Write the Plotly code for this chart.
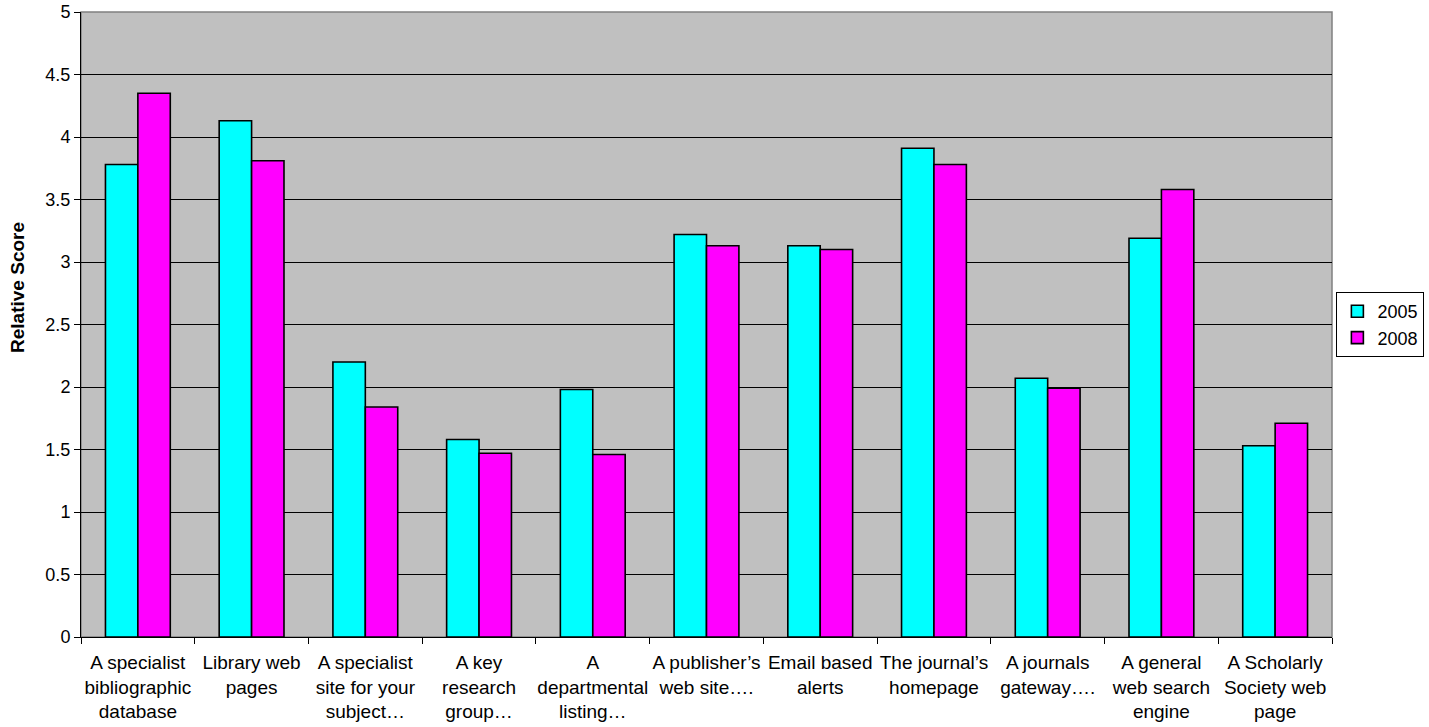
import plotly.graph_objects as go

# Resource categories (full names) and their wrapped tick labels
categories = [
    "A specialist bibliographic database",
    "Library web pages",
    "A specialist site for your subject…",
    "A key research group…",
    "A departmental listing…",
    "A publisher’s web site….",
    "Email based alerts",
    "The journal’s homepage",
    "A journals gateway….",
    "A general web search engine",
    "A Scholarly Society web page",
]
tick_labels = [
    "A specialist<br>bibliographic<br>database",
    "Library web<br>pages",
    "A specialist<br>site for your<br>subject…",
    "A key<br>research<br>group…",
    "A<br>departmental<br>listing…",
    "A publisher’s<br>web site….",
    "Email based<br>alerts",
    "The journal’s<br>homepage",
    "A journals<br>gateway….",
    "A general<br>web search<br>engine",
    "A Scholarly<br>Society web<br>page",
]

# Relative scores per survey year
scores_2005 = [3.78, 4.13, 2.20, 1.58, 1.98, 3.22, 3.13, 3.91, 2.07, 3.19, 1.53]
scores_2008 = [4.35, 3.81, 1.84, 1.47, 1.46, 3.13, 3.10, 3.78, 1.99, 3.58, 1.71]

y_ticks = [0, 0.5, 1, 1.5, 2, 2.5, 3, 3.5, 4, 4.5, 5]

FONT = "Liberation Sans, Arial, sans-serif"

fig = go.Figure()
fig.add_trace(go.Bar(
    name="2005", x=categories, y=scores_2005,
    marker=dict(color="#00FFFF", line=dict(color="#000000", width=1.6)),
))
fig.add_trace(go.Bar(
    name="2008", x=categories, y=scores_2008,
    marker=dict(color="#FF00FF", line=dict(color="#000000", width=1.6)),
))

fig.update_layout(
    width=1429, height=727,
    margin=dict(l=81, r=97, t=12, b=90, autoexpand=False),
    paper_bgcolor="#FFFFFF",
    plot_bgcolor="#C0C0C0",
    barmode="group",
    bargap=0.43,
    bargroupgap=0,
    font=dict(family=FONT, size=19, color="#000000"),
    legend=dict(
        x=1.0035, xanchor="left", y=0.5, yanchor="middle",
        bgcolor="#FFFFFF", bordercolor="#000000", borderwidth=1,
        font=dict(family=FONT, size=18, color="#000000"),
        itemwidth=30, tracegroupgap=0,
    ),
    showlegend=True,
)

fig.update_xaxes(
    type="category",
    tickmode="array", tickvals=categories, ticktext=tick_labels,
    tickson="boundaries", ticks="outside", ticklen=6, tickcolor="#000000",
    tickangle=0, automargin=False, ticklabelstandoff=8,
    showline=True, linecolor="#000000", linewidth=1,
    showgrid=False, zeroline=False,
    tickfont=dict(family=FONT, size=19, color="#000000"),
)
fig.update_yaxes(
    range=[0, 5], tickmode="array", tickvals=y_ticks,
    ticktext=[f"{v:g}" for v in y_ticks],
    ticks="outside", ticklen=6, tickcolor="#000000",
    automargin=False,
    showline=True, linecolor="#000000", linewidth=1,
    showgrid=True, gridcolor="#000000", gridwidth=1,
    zeroline=False,
    tickfont=dict(family=FONT, size=18, color="#000000"),
)

# Vertical axis caption, centred on the chart area rather than the plot
fig.add_annotation(
    text="<b>Relative Score</b>", textangle=-90,
    xref="paper", yref="paper", x=-0.0504, y=0.56,
    xanchor="center", yanchor="middle", showarrow=False,
    font=dict(family=FONT, size=19, color="#000000"),
)

# Grey frame around the plotting area
fig.add_shape(type="rect", xref="paper", yref="paper", x0=0, x1=1, y0=0, y1=1,
              line=dict(color="#808080", width=1.5), layer="below")

fig.write_html("out.html")
